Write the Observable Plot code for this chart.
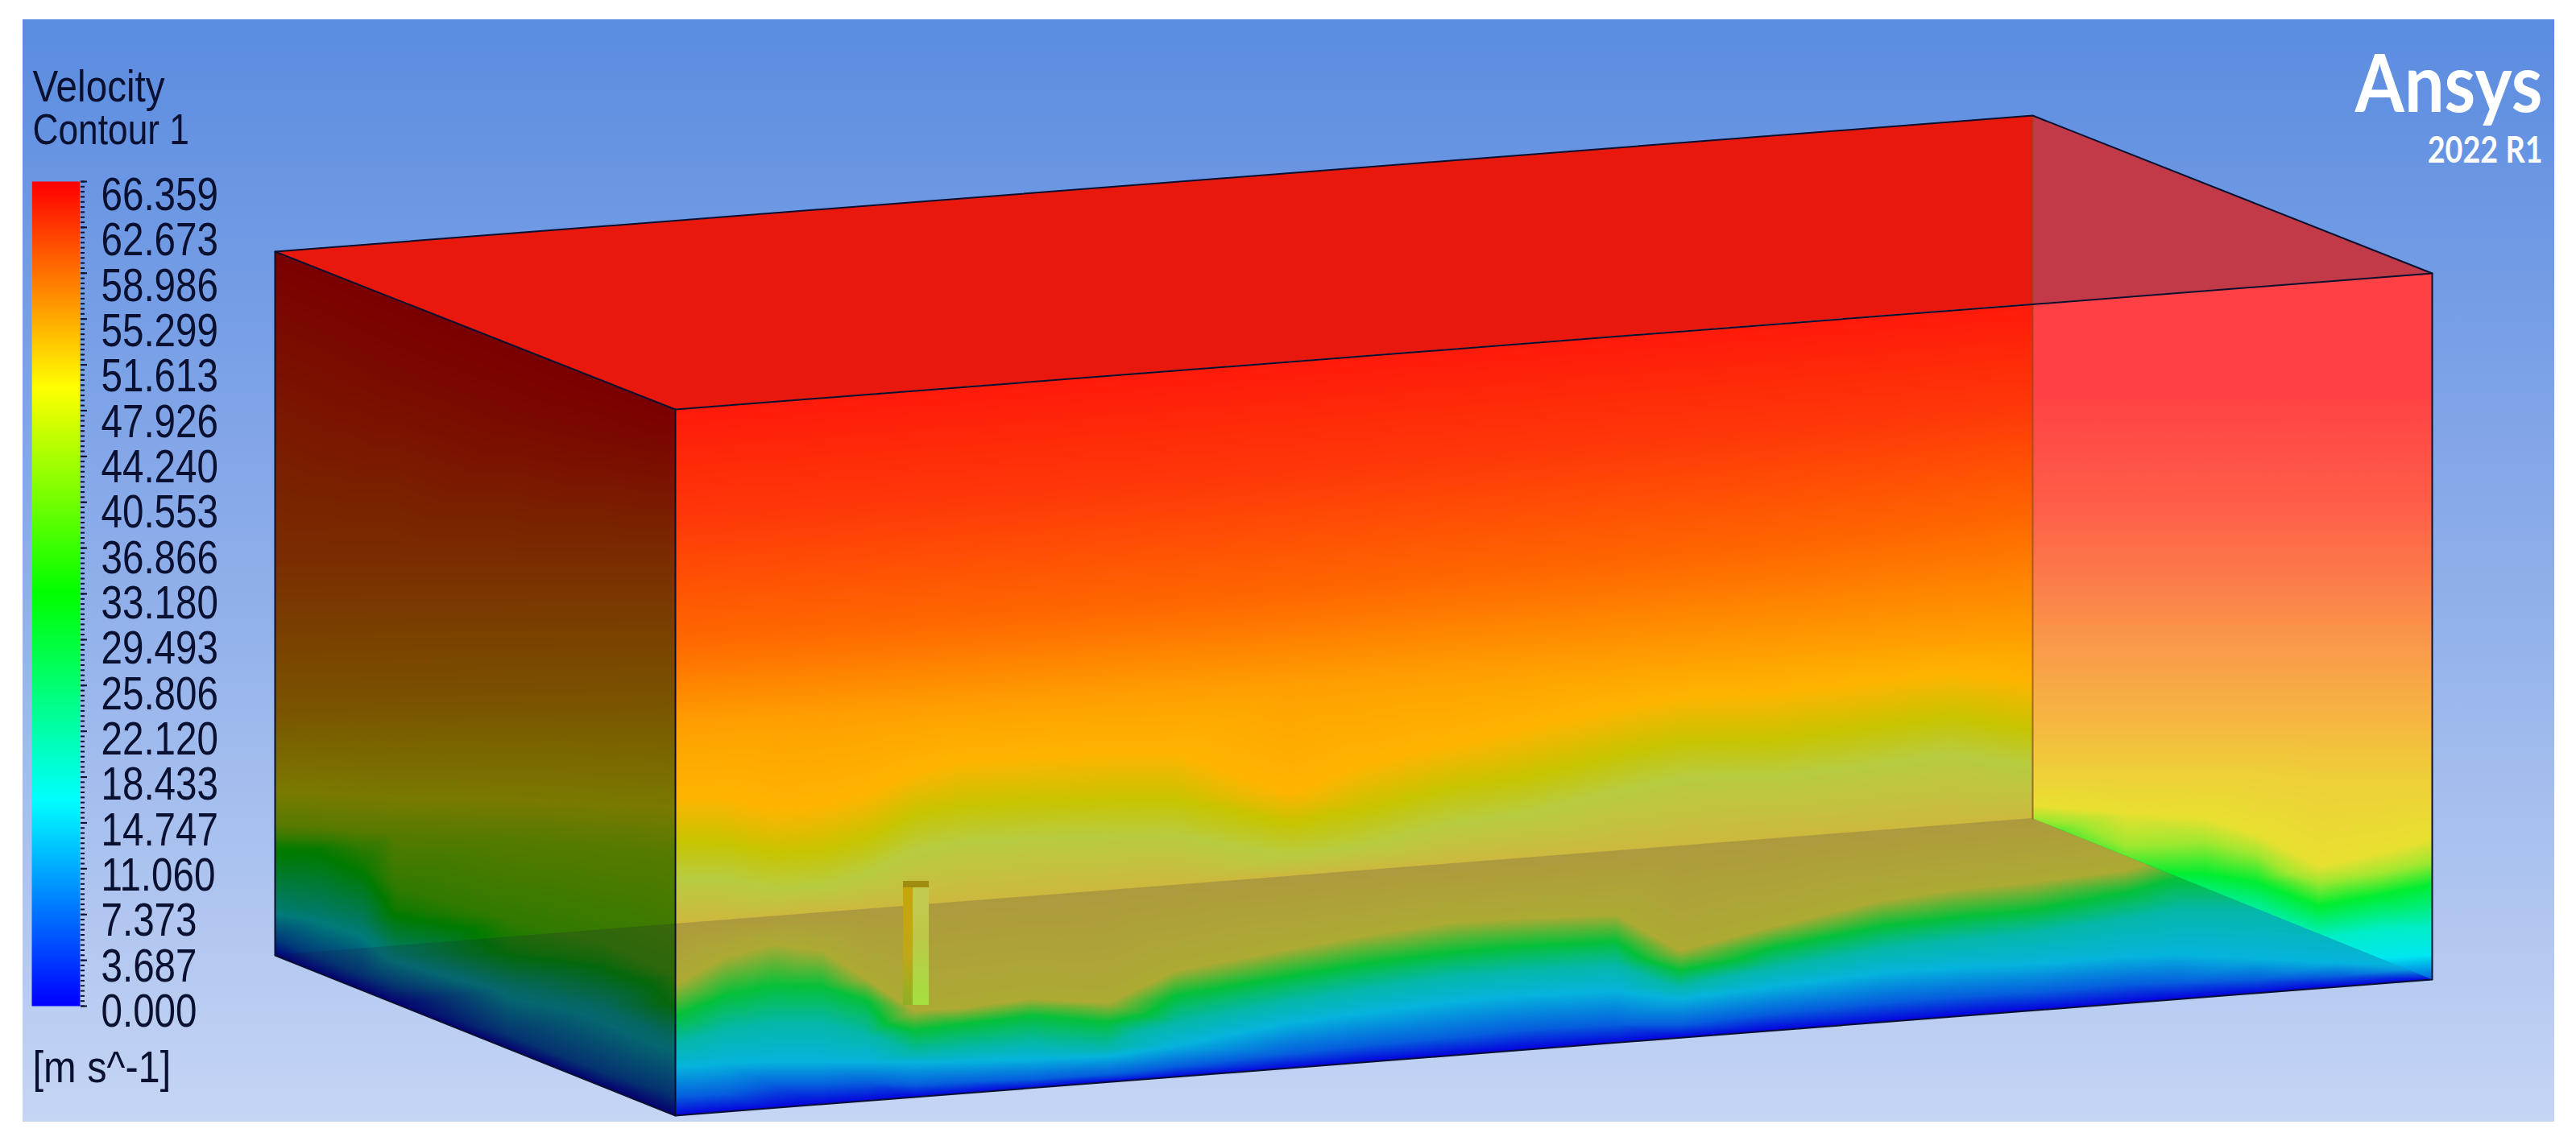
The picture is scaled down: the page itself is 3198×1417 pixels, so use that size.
<!DOCTYPE html>
<html><head><meta charset="utf-8">
<script src="https://cdn.jsdelivr.net/npm/d3@7"></script>
<script src="https://cdn.jsdelivr.net/npm/@observablehq/plot@0.6"></script>
<style>html,body{margin:0;padding:0;background:#fff;overflow:hidden}svg{display:block}</style>
</head><body><div id="chart"></div>
<script>
// ---- legend ----
const legendLabels = ["66.359","62.673","58.986","55.299","51.613","47.926","44.240","40.553","36.866","33.180","29.493","25.806","22.120","18.433","14.747","11.060","7.373","3.687","0.000"];
const legendLabelY = [242,298.3,354.7,411,467.4,523.7,580,636.4,692.7,749,805.4,861.7,918.1,974.4,1030.7,1087,1143.4,1199.7,1256];
const rainbowV = [0,16.59,33.18,49.77,66.359];
const rainbowC = ["#0000ff","#00ffff","#00ff00","#ffff00","#ff0000"];
// ---- box corners (panel pixels) ----
const A=[341,312],B=[2523,143],C=[3019,339],D=[838,508],A2=[341,1186],B2=[2523,1016],C2=[3019,1216],D2=[838,1385],P=[2523,377];
const barCorners=[[39,225],[99,225],[99,1249],[39,1249]];
// ---- front wall: tone stops and contour rows ----
const frontTones = [0,10,22,30,36,44,46,48,50,53,55.3,60,63,66];
const frontColors = ["#0000ff","#0070ff","#00d8ff","#00dcc0","#00e838","#cdcd30","#cdb93e","#b8cc40","#c8c400","#ffb400","#ffa000","#ff6a00","#ff3a08","#ff1a0a"];
const frontX =    [838,900,960,1020,1075,1135,1190,1280,1375,1460,1600,1690,1800,1890,2005,2085,2200,2335,2420,2523,2640,2700,2800,2900,3019];
const frontEdge = [1385,1380,1376,1371,1367,1362,1358,1351,1343,1337,1326,1319,1310,1303,1295,1288,1279,1269,1262,1254,1245,1240,1233,1225,1216];
const frontBlue = [1362,1358,1347,1347,1344,1347,1344,1340,1334,1324,1308,1298,1288,1278,1272,1272,1258,1245,1238,1232,1222,1220,1216,1212,1208];
const frontSky =  [1325,1320,1318,1318,1318,1319,1318,1315,1311,1298,1270,1258,1244,1236,1230,1240,1225,1208,1202,1197,1188,1185,1190,1195,1200];
const frontTeal = [1295,1278,1270,1270,1284,1307,1302,1294,1300,1270,1243,1228,1212,1205,1198,1225,1202,1178,1168,1158,1140,1130,1130,1135,1140];
const frontGreen =[1262,1236,1224,1225,1242,1279,1272,1261,1269,1236,1212,1197,1183,1175,1169,1205,1177,1150,1140,1130,1108,1091,1085,1085,1085];
const frontOlive =[1222,1188,1172,1180,1215,1255,1252,1240,1245,1205,1178,1162,1145,1140,1135,1180,1150,1118,1105,1095,1080,1060,1050,1050,1050];
const frontFloor= [1146.5,1142,1137,1132,1128,1123,1119,1112,1105,1097,1087,1081,1072,1065,1056,1050,1041,1030,1024,1016,1007,1002,994,986,978];
const frontMuted =[1090,1090,1103,1100,1085,1055,1045,1040,1038,1037,1062,1050,1022,1010,982,965,963,947,935,950,945,945,945,945,945];
const frontDip =  [1044,1045,1058,1055,1040,1010,1000,995,993,992,1022,1005,977,965,937,920,918,902,890,905,900,900,900,900,900];
const frontAmber =[990,990,1005,1000,985,960,945,940,935,935,985,950,925,905,880,865,860,845,835,845,840,840,840,840,840];
const front55 =   [900,896,893,890,886,882,878,872,866,860,852,846,838,832,824,818,810,800,795,790,785,782,778,774,770];
const front60 =   [800,796,792,788,784,780,776,770,762,756,745,736,725,718,708,700,690,674,664,650,640,635,630,625,620];
const front63 =   [650,646,642,638,634,630,626,620,612,606,594,586,576,568,558,552,542,530,520,510,502,498,492,486,480];
const frontTop =  [508,503,499,494,490,485,481,474,467,460,449,442,434,427,418,412,403,393,386,378,369,364,356,349,339];
// ---- right wall ----
const rightTones = [0,10,17,25,33,42,50,52,55,58,60,63,66];
const rightColors = ["#0000d8","#0060e0","#00e8f0","#00eec8","#00ee30","#a0e830","#e8e030","#eed038","#f5b840","#f99a4a","#fb7c4a","#ff5c48","#ff4045"];
const rightX =    [2523,2640,2736,2800,2879,2950,3019];
const rightBlue = [1120,1180,1210,1210,1220,1220,1216];
const rightCyan = [1080,1150,1170,1180,1190,1190,1185];
const rightTeal = [1060,1120,1130,1140,1165,1155,1150];
const rightGreen =[1040,1085,1085,1095,1125,1112,1098];
const rightLime = [1016,1050,1045,1060,1095,1085,1070];
const rightYellow=[1000,1010,1015,1035,1075,1060,1040];
const rightGold = [960,960,960,960,970,970,970];
const rightAmber =[900,900,900,900,900,900,900];
const rightPeach =[800,800,800,800,800,800,800];
const rightCoral =[720,720,720,720,720,720,720];
const rightRose = [620,620,620,620,620,620,620];
const rightRed =  [480,480,480,480,480,480,480];
// ---- left wall (velocity) ----
const leftX =     [341,400,450,490,631,746,838];
const leftEdge =  [1186,1210,1229,1245,1302,1348,1385];
const leftBlue =  [1165,1190,1210,1225,1285,1330,1360];
const leftTeal =  [1125,1135,1150,1185,1225,1250,1290];
const leftGreen = [1050,1052,1075,1130,1180,1195,1245];
const leftMoss =  [1040,1042,1050,1100,1140,1170,1210];
const leftOlive = [1025,1028,1032,1035,1040,1050,1060];
const leftYellow= [980,982,985,987,990,995,1000];
const leftAmber = [880,878,877,876,874,872,870];
const leftBrown = [700,700,700,700,700,700,700];
const leftDark =  [400,425,450,470,520,545,560];
const leftTop =   [312,335,356,372,428,474,508];
// ---- rod ----
const rodX = [1121,1133,1153];
const rodTop = 1095, rodBottom = 1248;
// ---- table builders ----
const rows = (xs, ys, tone) => xs.map((x,i)=>({x, y:ys[i], v:tone}));
const FO=100, RO=200;
const frontSamples = [
  ...rows(frontX,frontEdge,FO+0),...rows(frontX,frontBlue,FO+10),...rows(frontX,frontSky,FO+22),
  ...rows(frontX,frontTeal,FO+30),...rows(frontX,frontGreen,FO+36),...rows(frontX,frontOlive,FO+44),
  ...rows(frontX,frontFloor,FO+46),...rows(frontX,frontMuted,FO+48),...rows(frontX,frontDip,FO+50),
  ...rows(frontX,frontAmber,FO+53),...rows(frontX,front55,FO+55.3),...rows(frontX,front60,FO+60),
  ...rows(frontX,front63,FO+63),...rows(frontX,frontTop,FO+66)];
const rightSamples = [
  ...rows(rightX,rightBlue,RO+10),...rows(rightX,rightCyan,RO+17),...rows(rightX,rightTeal,RO+25),
  ...rows(rightX,rightGreen,RO+33),...rows(rightX,rightLime,RO+42),...rows(rightX,rightYellow,RO+50),
  ...rows(rightX,rightGold,RO+52),...rows(rightX,rightAmber,RO+55),...rows(rightX,rightPeach,RO+58),
  ...rows(rightX,rightCoral,RO+60),...rows(rightX,rightRose,RO+63),...rows(rightX,rightRed,RO+66)];
const leftSamples = [
  ...rows(leftX,leftEdge,0),...rows(leftX,leftBlue,8),...rows(leftX,leftTeal,19),...rows(leftX,leftGreen,35),
  ...rows(leftX,leftMoss,40),...rows(leftX,leftOlive,45),...rows(leftX,leftYellow,50),...rows(leftX,leftAmber,55),
  ...rows(leftX,leftBrown,60),...rows(leftX,leftDark,65),...rows(leftX,leftTop,66.3)];
const barY = d3.scaleLinear([0,66.359],[1249,225]);
const legendSamples = rainbowV.flatMap(v=>[{x:39,y:barY(v),v},{x:99,y:barY(v),v}]);
const ticks = d3.range(225,1249.5,1024/162);
const majorTicks = d3.range(225,1249.5,1024/18);

const poly = (pts,z,extra={})=>pts.map(p=>({x:p[0],y:p[1],z,...extra}));
const areaPts = (xs,y1,y2)=>xs.map((x,i)=>({x,y1:y1[i],y2:y2[i]}));

const defs = () => {
  const ns="http://www.w3.org/2000/svg";
  const d=document.createElementNS(ns,"defs");
  const grad=(id,stops)=>{
    const g=document.createElementNS(ns,"linearGradient");
    g.setAttribute("id",id);g.setAttribute("x1","0");g.setAttribute("x2","0");g.setAttribute("y1","0");g.setAttribute("y2","1");
    stops.forEach(([o,c])=>{const s=document.createElementNS(ns,"stop");s.setAttribute("offset",o);s.setAttribute("stop-color",c);g.appendChild(s);});
    d.appendChild(g);
  };
  grad("bg",[[0,"#5b8ce0"],[.5,"#8eaeea"],[1,"#c5d5f4"]]);
  grad("rodL",[[0,"#c8a408"],[.6,"#c0a818"],[1,"#8eb024"]]);
  grad("rodR",[[0,"#c4cc50"],[.45,"#bcc848"],[1,"#a4e040"]]);
  return d;
};
const raster = (data) => Plot.raster(data,{x:"x",y:"y",fill:"v",pixelSize:1,interpolate:"barycentric"});

const dark="#0a1030", sans="'Liberation Sans',Arial,sans-serif";
const chart = Plot.plot({
  width:3198,height:1417,margin:0,
  style:{background:"#fff"},
  x:{domain:[0,3198],range:[0,3198],axis:null},
  y:{domain:[0,1417],range:[0,1417],axis:null},
  color:{type:"linear",
    domain:[...rainbowV,...frontTones.map(t=>t+FO),...rightTones.map(t=>t+RO)],
    range:[...rainbowC,...frontColors,...rightColors]},
  marks:[
    defs,
    Plot.rect([{x1:28,x2:3171,y1:24,y2:1393}],{x1:"x1",x2:"x2",y1:"y1",y2:"y2",fill:"url(#bg)"}),
    raster(legendSamples),
    raster(frontSamples),
    raster(rightSamples),
    raster(leftSamples),
    // left wall shading
    Plot.areaY(areaPts([A[0],D[0]],[A[1],D[1]],[A2[1],D2[1]]),{x:"x",y1:"y1",y2:"y2",fill:"#000",fillOpacity:.52}),
    // floor seen through the walls
    Plot.areaY(areaPts([A2[0],D2[0],B2[0],C2[0]],[A2[1],1147,B2[1],C2[1]],[A2[1],D2[1],1254,C2[1]]),{x:"x",y1:"y1",y2:"y2",fill:"#1a1040",fillOpacity:.18}),
    // lid
    Plot.areaY(areaPts([A[0],D[0],P[0]],[A[1],274,B[1]],[A[1],D[1],P[1]]),{x:"x",y1:"y1",y2:"y2",fill:"#e8180c"}),
    Plot.areaY(areaPts([P[0],C[0]],[B[1],C[1]],[P[1],C[1]]),{x:"x",y1:"y1",y2:"y2",fill:"#c23a48"}),
    // rod
    Plot.rect([{a:rodX[0],b:rodX[1],c:"url(#rodL)"},{a:rodX[1],b:rodX[2],c:"url(#rodR)"}],{x1:"a",x2:"b",y1:rodTop,y2:rodBottom,fill:"c"}),
    Plot.rect([{a:rodX[0],b:rodX[2]}],{x1:"a",x2:"b",y1:rodTop-1,y2:rodTop+7,fill:"#a08c10"}),
    // edges
    Plot.line(poly([B,B2],"b"),{x:"x",y:"y",z:"z",stroke:"#8a4a20",strokeWidth:2,strokeOpacity:.7}),
    Plot.line([...poly([A,B,C,D,A],"lid"),...poly([A,A2,D2,C2,C],"rim"),...poly([D,D2],"corner")],{x:"x",y:"y",z:"z",stroke:dark,strokeWidth:2}),
    // legend
    Plot.ruleY(ticks,{x1:100,x2:105,stroke:dark,strokeWidth:2}),
    Plot.ruleY(majorTicks,{x1:100,x2:108,stroke:dark,strokeWidth:2}),
    Plot.text(legendLabels,{x:125,y:(d,i)=>legendLabelY[i],text:d=>d,textAnchor:"start",fontFamily:sans,fontSize:58,fill:dark}),
    Plot.text(["Velocity"],{x:40,y:108,text:d=>d,textAnchor:"start",fontFamily:sans,fontSize:56,fill:dark}),
    Plot.text(["Contour 1"],{x:40,y:161,text:d=>d,textAnchor:"start",fontFamily:sans,fontSize:54,fill:dark}),
    Plot.text(["[m s^-1]"],{x:40,y:1326,text:d=>d,textAnchor:"start",fontFamily:sans,fontSize:56,fill:dark}),
    Plot.text(["Ansys"],{x:3156,y:106,text:d=>d,textAnchor:"end",fontFamily:"Lato,sans-serif",fontWeight:700,fontSize:100,fill:"#fff"}),
    Plot.text(["2022 R1"],{x:3156,y:187,text:d=>d,textAnchor:"end",fontFamily:"Lato,sans-serif",fontWeight:700,fontSize:46,fill:"#fff"})
  ]
});
// Clip each raster to its own face, using the chart's own position scales.
const sx=chart.scale("x").apply, sy=chart.scale("y").apply;
const ns="http://www.w3.org/2000/svg";
const faces=[barCorners,[D,C,C2,D2],[B,C,C2,B2],[A,D,D2,A2]];
const imgs=chart.querySelectorAll("image");
const df=chart.querySelector("defs");
faces.forEach((f,i)=>{ if(!f||!imgs[i])return;
  const cp=document.createElementNS(ns,"clipPath");cp.setAttribute("id","face"+i);
  const pg=document.createElementNS(ns,"polygon");pg.setAttribute("points",f.map(p=>sx(p[0])+","+sy(p[1])).join(" "));
  cp.appendChild(pg);df.appendChild(cp);imgs[i].setAttribute("clip-path","url(#face"+i+")");
});
document.getElementById("chart").appendChild(chart);
// The reference's type is narrower than its height: condense the glyphs of each text.
const condense={"Ansys":.88,"Velocity":.85,"[m s^-1]":.87};
chart.querySelectorAll("text").forEach(t=>{
  const k=condense[t.textContent.trim()]??.82;
  t.setAttribute("lengthAdjust","spacingAndGlyphs");
  t.setAttribute("textLength",t.getComputedTextLength()*k);
});
</script></body></html>
